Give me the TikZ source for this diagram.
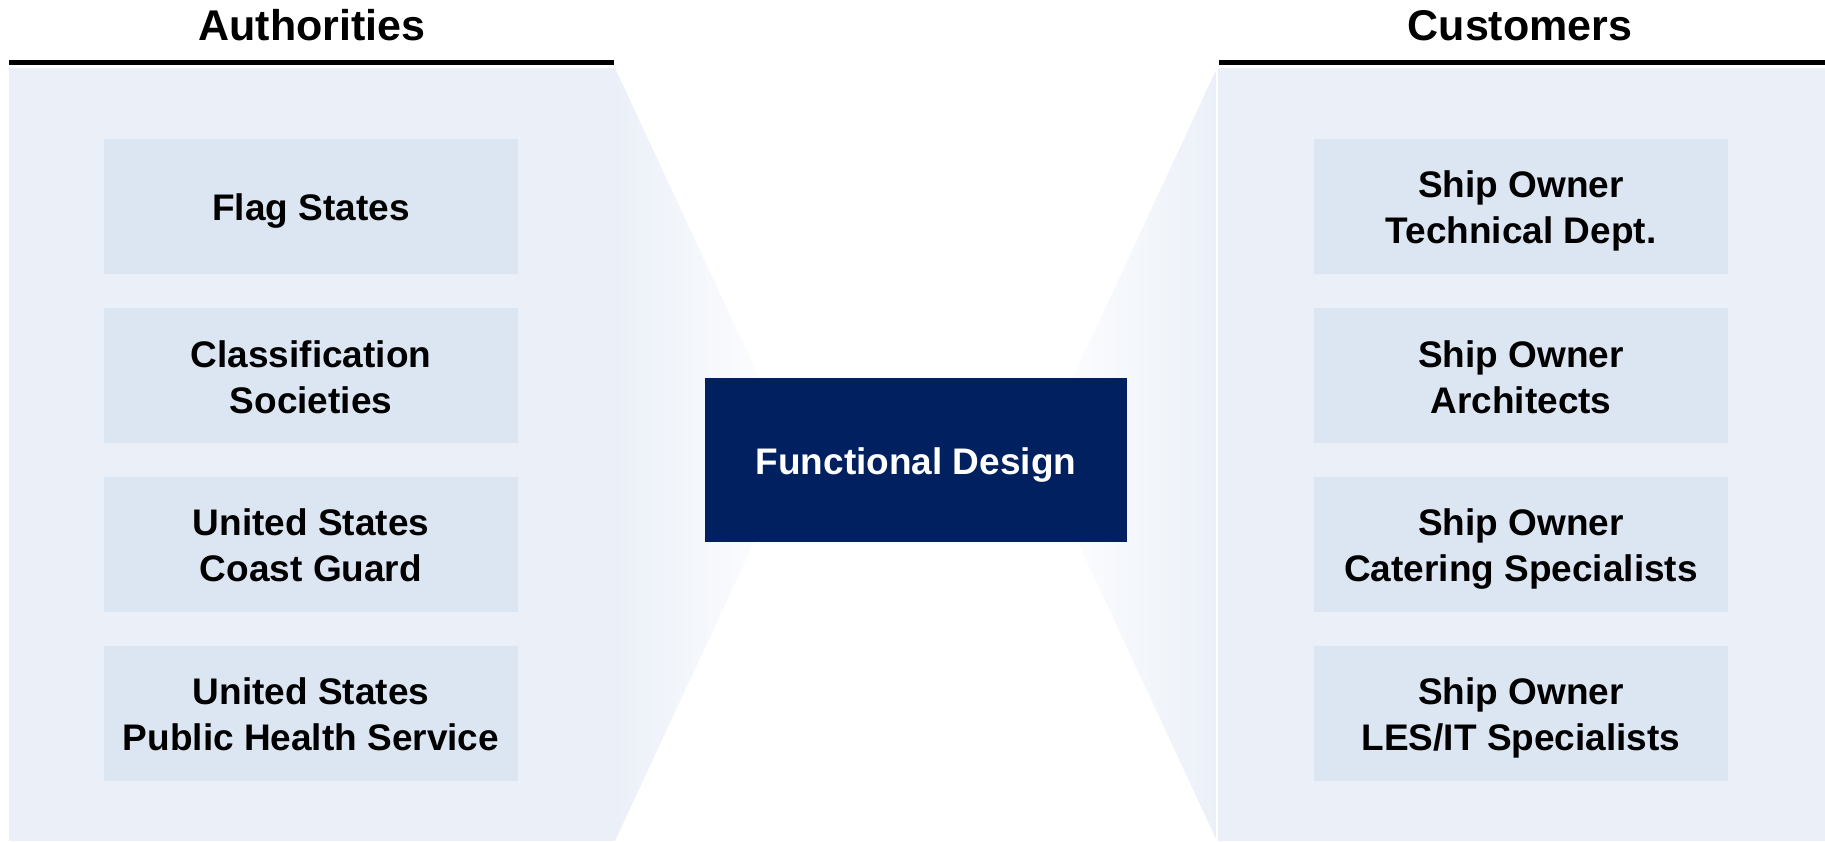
\documentclass[tikz,border=0pt]{standalone}
\usepackage{fontspec}
\setmainfont{Liberation Sans}
\usepackage{tikz}
\definecolor{panelblue}{RGB}{235, 240, 248}
\definecolor{boxblue}{RGB}{220, 230, 242}
\definecolor{navyblue}{RGB}{0, 32, 96}

\begin{document}
\begin{tikzpicture}[x=1pt, y=-1pt,
    party/.style={fill=boxblue, minimum width=414pt, minimum height=135pt, inner sep=0pt, align=center, text height=38.5pt, text depth=10pt, font=\fontsize{37}{46}\selectfont\bfseries},
    twoline/.style={text height=84.5pt},
    heading/.style={anchor=base, font=\fontsize{43}{50}\selectfont\bfseries}]
            \useasboundingbox (0, 0) rectangle (1825, 841);
            % Left funnel
            \fill[color=panelblue] (9, 68) rectangle (615, 841);
            \shade[left color=panelblue, right color=white] (615, 68) -- (795, 454.5) -- (615, 841) -- cycle;
            % Right funnel
            \fill[color=panelblue] (1217, 68) rectangle (1825, 841);
            \shade[left color=white, right color=panelblue] (1217, 68) -- (1037, 454.5) -- (1217, 841) -- cycle;
            \draw[color=white, line width=1.2pt] (1217, 68) -- (1217, 841);
            % Headings
            \node[heading] (authorities) at ( 312, 40) {Authorities};
            \node[heading] (customers)   at (1520, 40) {Customers};
            \draw[line width=5pt] (   9, 62.5) -- ( 614, 62.5);
            \draw[line width=5pt] (1219, 62.5) -- (1825, 62.5);
            % Authorities
            \node[party]          (flag)  at (311, 206.6) {Flag States};
            \node[party, twoline] (class) at (311, 375.9) {Classification\\Societies};
            \node[party, twoline] (uscg)  at (311, 544.7) {United States\\Coast Guard};
            \node[party, twoline] (usphs) at (311, 713.5) {United States\\Public Health Service};
            % Customers
            \node[party, twoline] (tech)     at (1521, 206.6) {Ship Owner\\Technical Dept.};
            \node[party, twoline] (arch)     at (1521, 375.9) {Ship Owner\\Architects};
            \node[party, twoline] (catering) at (1521, 544.7) {Ship Owner\\Catering Specialists};
            \node[party, twoline] (lesit)    at (1521, 713.5) {Ship Owner\\LES/IT Specialists};
            % Functional design
            \node[party, fill=navyblue, text=white, minimum width=422pt, minimum height=164pt] (design) at (916, 460) {Functional Design};
        \end{tikzpicture}
\end{document}
